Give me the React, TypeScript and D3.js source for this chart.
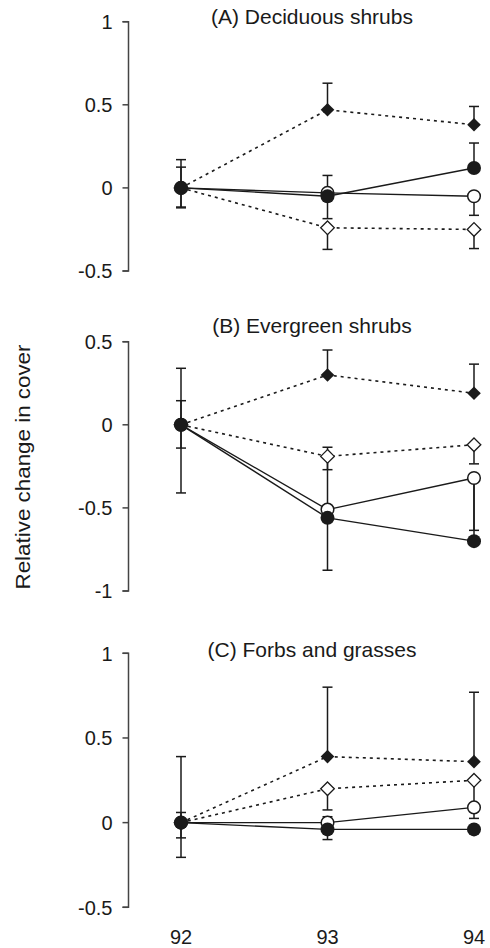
import React from 'react';
import * as d3 from 'd3';

// x categories (years)
const years = [92, 93, 94];

const panelTitles = ['(A) Deciduous shrubs', '(B) Evergreen shrubs', '(C) Forbs and grasses'];
const panelDomains = [[-0.5, 1], [-1, 0.5], [-0.5, 1]];
const panelTicks = [[-0.5, 0, 0.5, 1], [-1, -0.5, 0, 0.5], [-0.5, 0, 0.5, 1]];

// (A) Deciduous shrubs — means and error bar ends
const filledDiamondA = [0, 0.47, 0.38];
const filledDiamondErrA = [0.17, 0.63, 0.49];
const openDiamondA = [0, -0.24, -0.25];
const openDiamondErrA = [-0.115, -0.37, -0.365];
const openCircleA = [0, -0.03, -0.05];
const openCircleErrA = [0.125, 0.075, -0.165];
const filledCircleA = [0, -0.05, 0.12];
const filledCircleErrA = [-0.12, -0.185, 0.27];

// (B) Evergreen shrubs
const filledDiamondB = [0, 0.3, 0.19];
const filledDiamondErrB = [0.145, 0.45, 0.365];
const openDiamondB = [0, -0.19, -0.12];
const openDiamondErrB = [-0.14, -0.27, -0.235];
const openCircleB = [0, -0.51, -0.32];
const openCircleErrB = [0.34, -0.135, -0.635];
const filledCircleB = [0, -0.56, -0.7];
const filledCircleErrB = [-0.41, -0.875, -0.34];

// (C) Forbs and grasses
const filledDiamondC = [0, 0.39, 0.36];
const filledDiamondErrC = [0.39, 0.8, 0.77];
const openDiamondC = [0, 0.2, 0.25];
const openDiamondErrC = [0.06, 0.075, 0.11];
const openCircleC = [0, 0, 0.09];
const openCircleErrC = [-0.09, 0.035, 0.025];
const filledCircleC = [0, -0.04, -0.04];
const filledCircleErrC = [-0.205, -0.1, -0.06];

const panelSeries = [
  [
    { kind: 'filledDiamond', values: filledDiamondA, err: filledDiamondErrA },
    { kind: 'openDiamond', values: openDiamondA, err: openDiamondErrA },
    { kind: 'openCircle', values: openCircleA, err: openCircleErrA },
    { kind: 'filledCircle', values: filledCircleA, err: filledCircleErrA },
  ],
  [
    { kind: 'filledDiamond', values: filledDiamondB, err: filledDiamondErrB },
    { kind: 'openDiamond', values: openDiamondB, err: openDiamondErrB },
    { kind: 'openCircle', values: openCircleB, err: openCircleErrB },
    { kind: 'filledCircle', values: filledCircleB, err: filledCircleErrB },
  ],
  [
    { kind: 'filledDiamond', values: filledDiamondC, err: filledDiamondErrC },
    { kind: 'openDiamond', values: openDiamondC, err: openDiamondErrC },
    { kind: 'openCircle', values: openCircleC, err: openCircleErrC },
    { kind: 'filledCircle', values: filledCircleC, err: filledCircleErrC },
  ],
];

const W = 490;
const H = 948;
const FONT = 'Liberation Sans, Arial, Helvetica, sans-serif';
const INK = '#1a1a1a';

const axisX = 128.5;
const panelRanges = [[271, 21.7], [591, 341.7], [907.3, 653.3]];
const titleY = [24, 333, 657];

const x = d3.scalePoint<number>().domain(years).range([181, 474]);

const Marker = ({ kind, cx, cy }: { kind: string; cx: number; cy: number }) => {
  if (kind === 'filledCircle') return <circle cx={cx} cy={cy} r={7} fill={INK} />;
  if (kind === 'openCircle')
    return <circle cx={cx} cy={cy} r={6.3} fill="#fff" stroke={INK} strokeWidth={1.5} />;
  const s = 6.8;
  const d = `M${cx},${cy - s}L${cx + s},${cy}L${cx},${cy + s}L${cx - s},${cy}Z`;
  if (kind === 'filledDiamond') return <path d={d} fill={INK} />;
  return <path d={d} fill="#fff" stroke={INK} strokeWidth={1.3} />;
};

const Panel = ({ idx }: { idx: number }) => {
  const y = d3.scaleLinear().domain(panelDomains[idx]).range(panelRanges[idx]);
  const series = panelSeries[idx];
  const line = d3
    .line<number>()
    .x((_, i) => x(years[i]) as number)
    .y((v) => y(v));
  const [y0, y1] = panelRanges[idx];

  return (
    <g>
      {/* axis */}
      <path
        d={`M${axisX - 6},${y1}H${axisX}V${y0}H${axisX - 6}`}
        fill="none"
        stroke="#444"
        strokeWidth={1.5}
      />
      {panelTicks[idx].map((t) => (
        <g key={t}>
          <line x1={axisX - 6} x2={axisX} y1={y(t)} y2={y(t)} stroke="#444" strokeWidth={1.5} />
          <text
            x={axisX - 16}
            y={y(t)}
            dy="0.36em"
            textAnchor="end"
            fontSize={20}
            fontFamily={FONT}
            fill={INK}
          >
            {String(t)}
          </text>
        </g>
      ))}
      <text x={312} y={titleY[idx]} textAnchor="middle" fontSize={21} fontFamily={FONT} fill={INK}>
        {panelTitles[idx]}
      </text>

      {/* lines */}
      {series.map((s) => (
        <path
          key={s.kind + 'line'}
          d={line(s.values) || ''}
          fill="none"
          stroke={INK}
          strokeWidth={s.kind.includes('Diamond') ? 1.6 : 1.4}
          strokeDasharray={s.kind.includes('Diamond') ? '3,4' : undefined}
        />
      ))}

      {/* error bars */}
      {series.map((s) =>
        s.values.map((v, i) => {
          const cx = x(years[i]) as number;
          return (
            <g key={s.kind + 'err' + i} stroke={INK} strokeWidth={1.5}>
              <line x1={cx} x2={cx} y1={y(v)} y2={y(s.err[i])} />
              <line x1={cx - 5} x2={cx + 5} y1={y(s.err[i])} y2={y(s.err[i])} />
            </g>
          );
        })
      )}

      {/* markers */}
      {series.map((s) =>
        s.values.map((v, i) => (
          <Marker key={s.kind + 'm' + i} kind={s.kind} cx={x(years[i]) as number} cy={y(v)} />
        ))
      )}
    </g>
  );
};

export default function App() {
  return (
    <svg
      width={W}
      height={H}
      viewBox={`0 0 ${W} ${H}`}
      style={{ position: 'absolute', left: 0, top: 0, background: '#fff' }}
    >
      <rect width={W} height={H} fill="#fff" />
      {[0, 1, 2].map((i) => (
        <Panel key={i} idx={i} />
      ))}
      {years.map((yr) => (
        <text
          key={yr}
          x={x(yr) as number}
          y={944}
          textAnchor="middle"
          fontSize={20}
          fontFamily={FONT}
          fill={INK}
        >
          {yr}
        </text>
      ))}
      <text
        transform="translate(30,467) rotate(-90)"
        textAnchor="middle"
        fontSize={21}
        fontFamily={FONT}
        fill={INK}
        textLength={245}
        lengthAdjust="spacingAndGlyphs"
      >
        Relative change in cover
      </text>
    </svg>
  );
}
